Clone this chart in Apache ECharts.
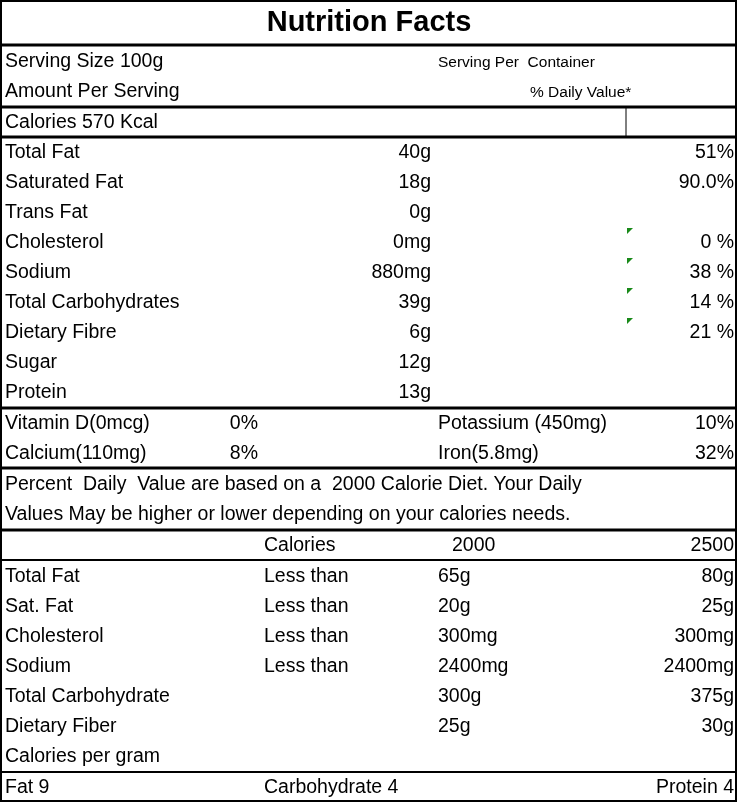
<!DOCTYPE html>
<html><head><meta charset="utf-8">
<script src="https://cdn.jsdelivr.net/npm/echarts@6/dist/echarts.min.js"></script>
<style>html,body{margin:0;padding:0;background:#fff}#c{width:738px;height:803px}</style>
</head><body><div id="c"></div>
<script>
var title = "Nutrition Facts";
var nutrients = ["Total Fat","Saturated Fat","Trans Fat","Cholesterol","Sodium","Total Carbohydrates","Dietary Fibre","Sugar","Protein"];
var amounts = ["40g","18g","0g","0mg","880mg","39g","6g","12g","13g"];
var percents = ["51%","90.0%","","0 %","38 %","14 %","21 %","",""];
var vitNames = ["Vitamin D(0mcg)","Calcium(110mg)"];
var vitPct = ["0%","8%"];
var minNames = ["Potassium (450mg)","Iron(5.8mg)"];
var minPct = ["10%","32%"];
var footNote = ["Percent  Daily  Value are based on a  2000 Calorie Diet. Your Daily","Values May be higher or lower depending on your calories needs."];
var refNames = ["Total Fat","Sat. Fat","Cholesterol","Sodium","Total Carbohydrate","Dietary Fiber","Calories per gram"];
var refLimit = ["Less than","Less than","Less than","Less than","","",""];
var ref2000 = ["65g","20g","300mg","2400mg","300g","25g",""];
var ref2500 = ["80g","25g","300mg","2400mg","375g","30g",""];
var calPerGram = ["Fat 9","Carbohydrate 4","Protein 4"];

var font = '"Liberation Sans", Arial, sans-serif';
var els = [];
function txt(x, y, s, align, size, weight) {
  els.push({type:'text', x:x, y:y + 1, style:{text:s, fill:'#000', font:(weight||'normal')+' '+(size||19.5)+'px '+font, textAlign:align||'left', textVerticalAlign:'middle'}});
}
function hline(y, w) {
  els.push({type:'line', shape:{x1:1, y1:y, x2:736, y2:y}, style:{stroke:'#000', lineWidth:w||2}});
}
// border
els.push({type:'rect', shape:{x:1, y:1, width:735, height:800}, style:{fill:'none', stroke:'#000', lineWidth:2}});
txt(369, 22, title, 'center', 29, 'bold');
hline(45, 3);
txt(5, 61, "Serving Size 100g");
txt(438, 62, "Serving Per  Container", 'left', 15.5);
txt(530, 92, "% Daily Value*", 'left', 15.5);
txt(5, 91, "Amount Per Serving");
hline(107, 3);
txt(5, 122, "Calories 570 Kcal");
els.push({type:'line', shape:{x1:626, y1:107, x2:626, y2:137}, style:{stroke:'#000', lineWidth:1}});
hline(137, 3);
nutrients.forEach(function (n, i) {
  var y = 152 + i * 30;
  txt(5, y, n);
  txt(431, y, amounts[i], 'right');
  if (percents[i]) txt(734, y, percents[i], 'right');
});
[228, 258, 288, 318].forEach(function (y) {
  els.push({type:'polygon', shape:{points:[[627,y],[633,y],[627,y+6]]}, style:{fill:'#1a8a1a'}});
});
hline(408, 3);
vitNames.forEach(function (n, i) {
  var y = 423 + i * 30;
  txt(5, y, n);
  txt(258, y, vitPct[i], 'right');
  txt(438, y, minNames[i]);
  txt(734, y, minPct[i], 'right');
});
hline(468, 3);
footNote.forEach(function (s, i) { txt(5, 484 + i * 30, s); });
hline(530, 3);
txt(264, 545, "Calories");
txt(452, 545, "2000");
txt(734, 545, "2500", 'right');
hline(560, 2);
refNames.forEach(function (n, i) {
  var y = 576 + i * 30;
  txt(5, y, n);
  if (refLimit[i]) txt(264, y, refLimit[i]);
  if (ref2000[i]) txt(438, y, ref2000[i]);
  if (ref2500[i]) txt(734, y, ref2500[i], 'right');
});
hline(772, 2);
txt(5, 787, calPerGram[0]);
txt(264, 787, calPerGram[1]);
txt(734, 787, calPerGram[2], 'right');

var chart = echarts.init(document.getElementById('c'));
chart.setOption({animation:false, graphic:{elements:els}});
</script></body></html>
